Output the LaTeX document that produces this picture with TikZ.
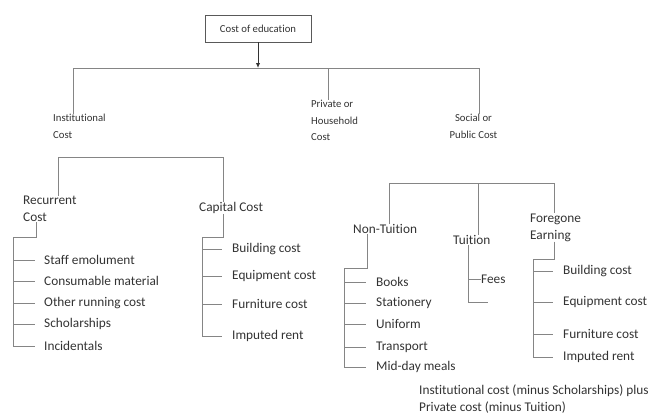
\documentclass[tikz,border=0pt]{standalone}
\usepackage{fontspec}
\setmainfont{Carlito}[Ligatures=NoCommon]
\usepackage{xcolor}
\usepackage{tikz}
\usetikzlibrary{arrows.meta, positioning, calc}
\definecolor{txtgray}{HTML}{333333}
\definecolor{linegray}{HTML}{858585}

\begin{document}
\begin{tikzpicture}[x=1pt, y=-1pt,
    tree/.style={draw=linegray, line width=1pt},
    lvlone/.style={anchor=west, inner sep=0pt, text=txtgray, font=\fontsize{10.7}{16.5}\selectfont, align=left},
    leaf/.style={anchor=west, inner sep=0pt, text=txtgray, font=\fontsize{13.3}{17}\selectfont, align=left}]
\useasboundingbox (0,0) rectangle (654,415);
% Root and first level
\node[draw=black!65, line width=0.8pt, minimum width=106pt, minimum height=27pt, inner sep=0pt,
      text=txtgray, font=\fontsize{10.7}{13}\selectfont] (edu) at (258,28.5) {Cost of education};
\node[lvlone] (inst) at (53,126.5) {Institutional\\Cost};
\node[lvlone] (priv) at (311,120.5) {Private or\\Household\\Cost};
\node[lvlone, anchor=center, align=center] (soc) at (473.5,126.5) {Social or\\Public Cost};
\coordinate (bus) at (258,68);
\coordinate (busL) at (73,68);
\coordinate (busR) at (479,68);
\draw[tree, draw=black!80, -{Latex[length=5pt,width=4.5pt]}] (edu.south) -- (bus);
\draw[tree] (busL |- inst.north) -- (busL) -- (busR) -- (busR |- soc.north);
\draw[tree] (bus -| 328,0) -- (328,0 |- priv.north);
% Institutional cost
\node[leaf] (rec) at (23,209) {Recurrent\\Cost};
\node[leaf] (cap) at (199,208) {Capital Cost};
\draw[tree] (58,0 |- rec.north) -- (58,157) -- (223,157) -- (223,0 |- cap.north);
\node[leaf] (staff) at (44,260) {Staff emolument};
\node[leaf] (cons) at (44,281) {Consumable material};
\node[leaf] (other) at (44,303) {Other running cost};
\node[leaf] (schol) at (44,324) {Scholarships};
\node[leaf] (incid) at (44,346) {Incidentals};
\draw[tree] (36,0 |- rec.south) -- (36,237) -- (13,237) -- (13,0 |- incid.west) -- (35,0 |- incid.west);
\foreach \n in {staff, cons, other, schol} {
    \draw[tree] (13,0 |- \n.west) -- (35,0 |- \n.west);
}
\node[leaf] (bldA) at (232,249) {Building cost};
\node[leaf] (eqpA) at (232,276) {Equipment cost};
\node[leaf] (furA) at (232,304) {Furniture cost};
\node[leaf] (rentA) at (232,336) {Imputed rent};
\draw[tree] (223,0 |- cap.south) -- (223,237) -- (202,237) -- (202,0 |- rentA.west) -- (222,0 |- rentA.west);
\foreach \n in {bldA, eqpA, furA} {
    \draw[tree] (202,0 |- \n.west) -- (222,0 |- \n.west);
}
% Private or household cost
\node[leaf] (nontui) at (353,229) {Non-Tuition};
\node[leaf] (tui) at (453,240) {Tuition};
\node[leaf] (fore) at (530,227.5) {Foregone\\Earning};
\draw[tree] (389,0 |- nontui.north) -- (389,183) -- (554,183) -- (554,0 |- fore.north);
\draw[tree] (478,183) -- (478,0 |- tui.north);
\node[leaf] (books) at (376,282) {Books};
\node[leaf] (stat) at (376,303) {Stationery};
\node[leaf] (unif) at (376,324) {Uniform};
\node[leaf] (trans) at (376,347) {Transport};
\node[leaf] (meals) at (376,367) {Mid-day meals};
\draw[tree] (367,0 |- nontui.south) -- (367,268) -- (344,268) -- (344,0 |- meals.west) -- (366,0 |- meals.west);
\foreach \n in {books, stat, unif, trans} {
    \draw[tree] (344,0 |- \n.west) -- (366,0 |- \n.west);
}
\node[leaf] (fees) at (481,279) {Fees};
\draw[tree] (468,0 |- tui.south) -- (468,302) -- (488,302);
\draw[tree] (468,0 |- fees.west) -- (fees.west);
\node[leaf] (bldB) at (563,271) {Building cost};
\node[leaf] (eqpB) at (563,302) {Equipment cost};
\node[leaf] (furB) at (563,334) {Furniture cost};
\node[leaf] (rentB) at (563,357) {Imputed rent};
\draw[tree] (554,0 |- fore.south) -- (554,259) -- (533,259) -- (533,0 |- rentB.west) -- (553,0 |- rentB.west);
\foreach \n in {bldB, eqpB, furB} {
    \draw[tree] (533,0 |- \n.west) -- (553,0 |- \n.west);
}
% Social cost note
\node[leaf] (note) at (419,399.5) {Institutional cost (minus Scholarships) plus\\Private cost (minus Tuition)};
\end{tikzpicture}
\end{document}
